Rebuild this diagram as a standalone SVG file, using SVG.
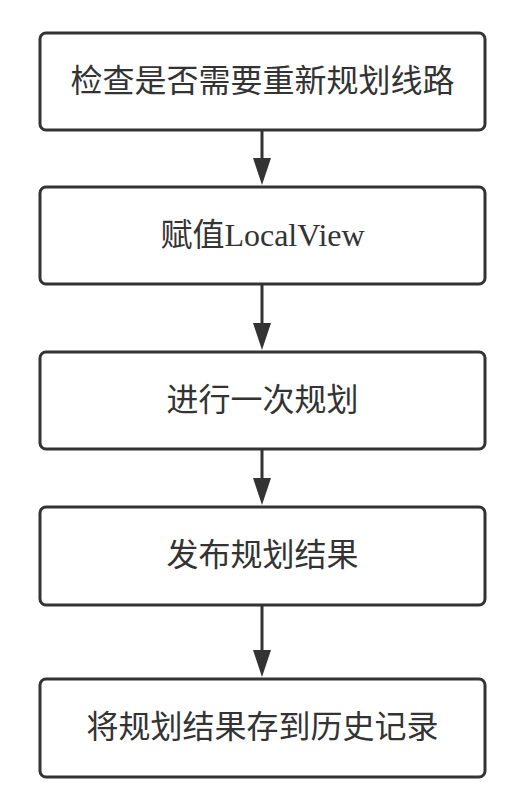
<svg xmlns="http://www.w3.org/2000/svg" width="512" height="805" viewBox="0 0 512 805">
<style>
.box{fill:#fff;stroke:#333;stroke-width:3}
.t{font-family:"Noto Sans CJK SC","Noto Sans",sans-serif;font-size:32px;fill:#333;text-anchor:middle}
.ts{font-family:"Liberation Serif","Noto Sans CJK SC",serif;font-size:32px;fill:#333;text-anchor:middle}
.c{stroke:#333;stroke-width:3;fill:none}
.h{fill:#333}
</style>
<rect width="512" height="805" fill="#fff"/>
<g id="connectors">
<line class="c" x1="262" y1="131" x2="262" y2="160"/>
<polygon class="h" points="253,158 271,158 262,185"/>
<line class="c" x1="262" y1="285" x2="262" y2="325"/>
<polygon class="h" points="253,323 271,323 262,350"/>
<line class="c" x1="262" y1="450" x2="262" y2="480"/>
<polygon class="h" points="253,478 271,478 262,505"/>
<line class="c" x1="262" y1="606" x2="262" y2="652"/>
<polygon class="h" points="253,650 271,650 262,677"/>
</g>
<g id="n1"><rect class="box" x="40" y="33" width="445" height="97" rx="6"/><text class="t" x="262.5" y="92">检查是否需要重新规划线路</text></g>
<g id="n2"><rect class="box" x="40" y="187" width="445" height="97" rx="6"/><text class="ts" x="262.5" y="246">赋值LocalView</text></g>
<g id="n3"><rect class="box" x="40" y="352" width="445" height="97" rx="6"/><text class="t" x="262.5" y="411">进行一次规划</text></g>
<g id="n4"><rect class="box" x="40" y="507" width="445" height="98" rx="6"/><text class="t" x="262.5" y="566">发布规划结果</text></g>
<g id="n5"><rect class="box" x="40" y="679" width="445" height="98" rx="6"/><text class="t" x="262.5" y="738">将规划结果存到历史记录</text></g>
</svg>
